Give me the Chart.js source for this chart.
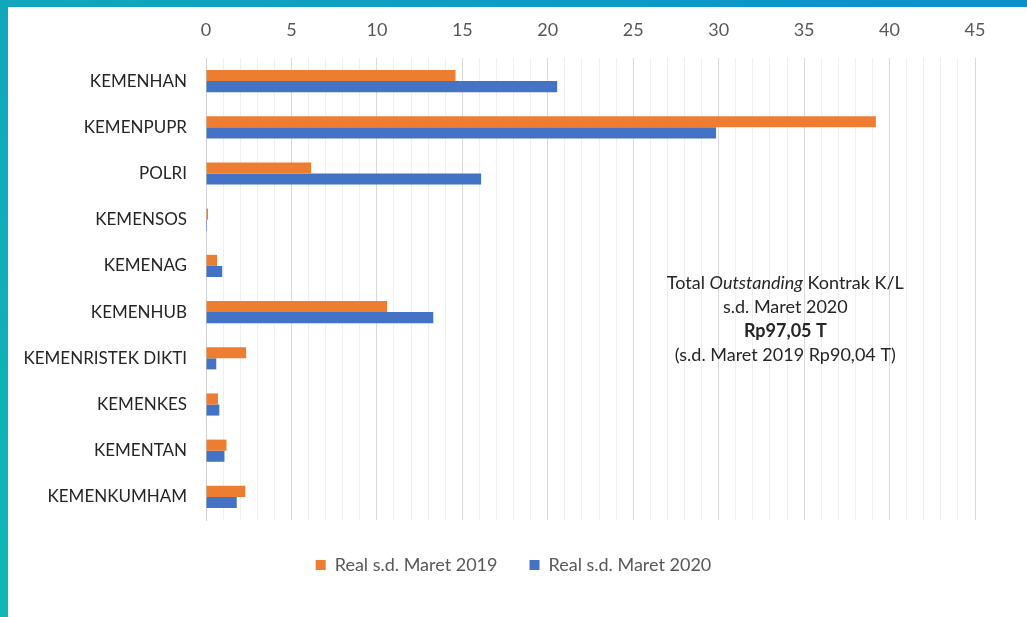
<!DOCTYPE html>
<html>
<head>
<meta charset="utf-8">
<script src="https://cdn.jsdelivr.net/npm/chart.js@4"></script>
<style>
  html, body { margin: 0; padding: 0; background: #fff; }
  #wrap { position: relative; width: 1027px; height: 617px; overflow: hidden; }
  #place__graph { position: absolute; left: 0; top: 0; }
  .edge-top { position: absolute; left: 0; top: 0; width: 1027px; height: 7px;
    background: linear-gradient(to right, #11a7bb, #0a91cd); }
  .edge-left { position: absolute; left: 0; top: 0; width: 8px; height: 617px;
    background: linear-gradient(to bottom, #11a7bb, #10b7b5); }
</style>
</head>
<body>
<div id="wrap">
  <canvas id="place__graph" width="1027" height="617"></canvas>
  <div class="edge-top"></div>
  <div class="edge-left"></div>
</div>
<script>
const labels = ['KEMENHAN', 'KEMENPUPR', 'POLRI', 'KEMENSOS', 'KEMENAG', 'KEMENHUB',
  'KEMENRISTEK DIKTI', 'KEMENKES', 'KEMENTAN', 'KEMENKUMHAM']
const real2019 = [14.6, 39.2, 6.15, 0.12, 0.65, 10.6, 2.35, 0.7, 1.2, 2.3]
const real2020 = [20.55, 29.85, 16.1, 0.06, 0.95, 13.3, 0.6, 0.78, 1.08, 1.8]
const xTicks = [0, 5, 10, 15, 20, 25, 30, 35, 40, 45]
const noteLines = [
  [['Total ', ''], ['Outstanding', 'italic '], [' Kontrak K/L', '']],
  [['s.d. Maret 2020', '']],
  [['Rp97,05 T', 'bold ']],
  [['(s.d. Maret 2019 Rp90,04 T)', '']]
]

const FONT = 'Lato, "Open Sans", sans-serif'

// text box in the plot
const notePlugin = {
  id: 'note',
  afterDraw(chart) {
    const ctx = chart.ctx
    const cx = chart.scales.x.getPixelForValue(33.9)
    const cy = chart.scales.y.getPixelForValue(5.15)
    ctx.save()
    ctx.fillStyle = '#262626'
    ctx.textBaseline = 'middle'
    const lh = 24
    noteLines.forEach((parts, i) => {
      let w = 0
      parts.forEach(p => { ctx.font = p[1] + '18px ' + FONT; w += ctx.measureText(p[0]).width })
      let x = cx - w / 2
      const y = cy + (i - 1.5) * lh
      parts.forEach(p => {
        ctx.font = p[1] + '18px ' + FONT
        ctx.fillText(p[0], x, y)
        x += ctx.measureText(p[0]).width
      })
    })
    ctx.restore()
  }
}

// a bit more room between plot and legend, legend centred on the page
const legendGap = {
  id: 'legendGap',
  afterInit(chart) {
    const lg = chart.legend
    const fit = lg.fit
    lg.fit = function () { fit.call(this); this.height += 7 }
    const draw = lg.draw
    lg.draw = function () {
      this.ctx.save()
      this.ctx.translate(26, 4)
      draw.call(this)
      this.ctx.restore()
    }
  }
}

const ctx = document.getElementById('place__graph').getContext('2d')
var chart = new Chart(ctx, {
  type: 'bar',
  data: {
    labels: labels,
    datasets: [{
      label: 'Real s.d. Maret 2019',
      backgroundColor: '#ED7D31',
      data: real2019
    },
    {
      label: 'Real s.d. Maret 2020',
      backgroundColor: '#4472C4',
      data: real2020
    }]
  },
  options: {
    indexAxis: 'y',
    responsive: false,
    animation: false,
    layout: { padding: { left: 0, right: 52, top: 0, bottom: 30 } },
    datasets: { bar: { categoryPercentage: 0.48, barPercentage: 1 } },
    scales: {
      x: {
        position: 'top',
        min: 0,
        max: 45,
        afterBuildTicks(scale) {
          const t = []
          for (let v = 0; v <= 45; v++) t.push({ value: v })
          scale.ticks = t
        },
        afterFit(scale) { scale.height = 58 },
        ticks: {
          autoSkip: false,
          maxRotation: 0,
          color: '#595959',
          font: { family: FONT, size: 18 },
          padding: 17,
          callback: v => xTicks.includes(v) ? v : ''
        },
        grid: {
          drawTicks: false,
          color: c => (c.tick && c.tick.value % 5 === 0) ? '#d9d9d9' : '#efefef'
        },
        border: { display: false }
      },
      y: {
        afterFit(scale) { scale.width = 206 },
        ticks: {
          color: '#262626',
          font: { family: FONT, size: 17 },
          padding: 11
        },
        grid: { display: false },
        border: { display: true, color: '#d0d0d0' }
      }
    },
    plugins: {
      legend: {
        position: 'bottom',
        labels: {
          boxWidth: 10,
          boxHeight: 10,
          padding: 32,
          color: '#595959',
          font: { family: FONT, size: 18 }
        }
      },
      tooltip: { enabled: false }
    }
  },
  plugins: [notePlugin, legendGap]
})
</script>
</body>
</html>
